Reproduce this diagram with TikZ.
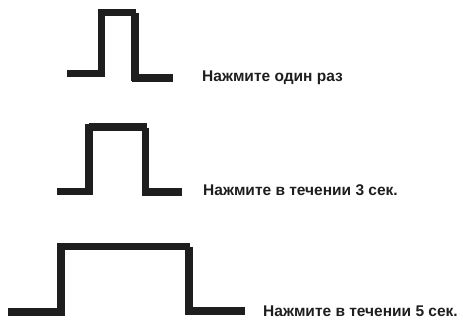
\documentclass[tikz,border=0pt]{standalone}
\usepackage{fontspec}
\setmainfont{Liberation Sans}
\definecolor{ink}{HTML}{1E1E1E}
\begin{document}
\begin{tikzpicture}[x=1pt,y=-1pt,
  pulse/.style={draw=ink,line width=7.5pt,line cap=butt},
  lbl/.style={anchor=base west,inner sep=0pt,text=ink,font=\bfseries\fontsize{15.5}{17}\selectfont}]
\useasboundingbox (0,0) rectangle (463,320);
% pulse 1
\draw[pulse] (67,73.5) -- (102,73.5);
\draw[pulse] (101.5,77) -- (101.5,9.5);
\draw[pulse] (98,12.5) -- (136,12.5);
\draw[pulse] (135,13) -- (135,81);
\draw[pulse] (132,78) -- (173,78);
% pulse 2
\draw[pulse] (57,191.5) -- (92,191.5);
\draw[pulse] (89,195) -- (89,124);
\draw[pulse] (89,127) -- (147,127);
\draw[pulse] (145.5,128) -- (145.5,196);
\draw[pulse] (145,192) -- (182,192);
% pulse 3
\draw[pulse] (8,312) -- (62,312);
\draw[pulse] (61,316) -- (61,243.5);
\draw[pulse] (60,246.5) -- (190,246.5);
\draw[pulse] (189,247) -- (189,315);
\draw[pulse] (188,311) -- (245,311);
% labels
\node[lbl] (t1) at (202,81.5) {Нажмите один раз};
\node[lbl] (t2) at (203,196) {Нажмите в течении 3 сек.};
\node[lbl] (t3) at (263,316.5) {Нажмите в течении 5 сек.};
\end{tikzpicture}
\end{document}
